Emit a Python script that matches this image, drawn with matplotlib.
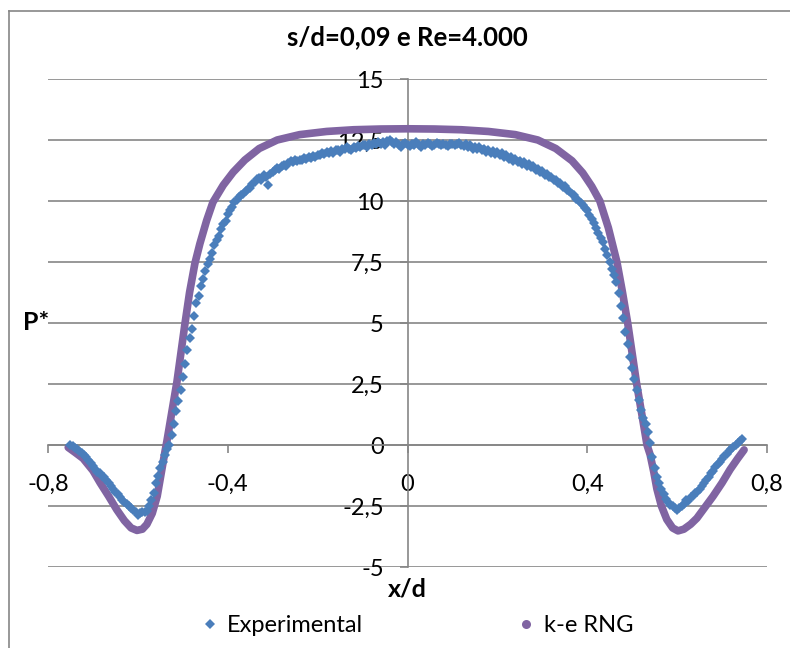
import numpy as np
import matplotlib
matplotlib.use("Agg")
import matplotlib.pyplot as plt
from matplotlib.lines import Line2D

plt.rcParams['font.family'] = ['Lato', 'DejaVu Sans']

# experimental P* profile, sampled every 0.005 in x/d starting at -0.75
exp_x0 = -0.75
exp_dx = 0.005
exp_y = [
    0.02, -0.06, -0.12, -0.18, -0.26, -0.33, -0.40, -0.50, -0.62, -0.72,
    -0.85, -0.98, -1.10, -1.15, -1.25, -1.32, -1.42, -1.55, -1.68, -1.80,
    -1.93, -2.02, -2.12, -2.25, -2.35, -2.42, -2.50, -2.58, -2.66, -2.76,
    -2.86, -2.80, -2.74, -2.76, -2.72, -2.50, -2.25, -1.95, -1.55, -1.25,
    -0.95, -0.68, -0.42, -0.18, 0.02, 0.40, 0.88, 1.38, 1.80, 2.25,
    2.80, 3.30, 3.90, 4.40, 4.75, 5.30, 5.80, 6.12, 6.50, 6.80,
    7.15, 7.40, 7.62, 7.85, 8.20, 8.40, 8.55, 8.85, 9.05, 9.20,
    9.45, 9.62, 9.75, 9.95, 10.05, 10.15, 10.25, 10.30, 10.40, 10.48,
    10.55, 10.70, 10.78, 10.90, 10.95, 10.85, 11.05, 11.00, 10.65, 11.10,
    11.20, 11.28, 11.35, 11.30, 11.42, 11.48, 11.45, 11.55, 11.62, 11.58,
    11.66, 11.62, 11.70, 11.68, 11.75, 11.72, 11.80, 11.78, 11.85, 11.82,
    11.90, 11.88, 11.95, 11.92, 12.02, 11.98, 12.05, 11.95, 12.08, 12.10,
    12.02, 12.15, 12.12, 12.20, 12.15, 12.10, 12.22, 12.18, 12.25, 12.20,
    12.30, 12.28, 12.22, 12.32, 12.30, 12.38, 12.33, 12.40, 12.35, 12.42,
    12.30, 12.45, 12.50, 12.40, 12.35, 12.42, 12.28, 12.20, 12.32, 12.38,
    12.30, 12.25, 12.35, 12.28, 12.40, 12.30, 12.22, 12.35, 12.28, 12.38,
    12.32, 12.25, 12.30, 12.38, 12.32, 12.28, 12.35, 12.30, 12.26, 12.33,
    12.35, 12.28, 12.32, 12.38, 12.30, 12.25, 12.32, 12.20, 12.28, 12.15,
    12.22, 12.12, 12.20, 12.08, 12.15, 12.02, 12.10, 11.98, 12.05, 11.92,
    12.00, 11.88, 11.95, 11.80, 11.88, 11.72, 11.80, 11.65, 11.72, 11.58,
    11.65, 11.50, 11.58, 11.45, 11.50, 11.38, 11.42, 11.28, 11.32, 11.18,
    11.22, 11.08, 11.12, 10.98, 11.00, 10.85, 10.88, 10.72, 10.75, 10.58,
    10.60, 10.45, 10.42, 10.30, 10.25, 10.08, 10.05, 9.90, 9.85, 9.70,
    9.62, 9.42, 9.28, 9.10, 8.88, 8.70, 8.50, 8.30, 8.05, 7.80,
    7.52, 7.20, 6.95, 6.70, 6.25, 5.70, 5.20, 4.65, 4.15, 3.60,
    3.15, 2.70, 2.25, 1.85, 1.45, 1.10, 0.85, 0.55, 0.10, -0.50,
    -0.95, -1.30, -1.55, -1.80, -2.00, -2.20, -2.35, -2.45, -2.52, -2.58,
    -2.65, -2.60, -2.48, -2.40, -2.25, -2.30, -2.15, -2.10, -1.98, -1.92,
    -1.80, -1.70, -1.55, -1.45, -1.30, -1.15, -1.05, -0.92, -0.78, -0.68,
    -0.58, -0.45, -0.35, -0.25, -0.18, -0.08, -0.02, 0.08, 0.15, 0.25,
]
exp_x = exp_x0 + exp_dx * np.arange(len(exp_y))

# k-e RNG simulation
cfd_x = [-0.755, -0.74, -0.722, -0.70, -0.684, -0.665, -0.647, -0.63, -0.615, -0.602,
         -0.59, -0.58, -0.568, -0.557, -0.548, -0.540, -0.535, -0.524, -0.513, -0.504,
         -0.495, -0.485, -0.473, -0.462, -0.447, -0.433, -0.41, -0.388, -0.362, -0.33,
         -0.29, -0.24, -0.18, -0.12, -0.06, 0.0, 0.06, 0.12, 0.18, 0.24,
         0.29, 0.33, 0.366, 0.39, 0.41, 0.428, 0.447, 0.466, 0.478, 0.49,
         0.50, 0.51, 0.522, 0.533, 0.54, 0.548, 0.555, 0.565, 0.577, 0.59,
         0.602, 0.615, 0.63, 0.644, 0.66, 0.68, 0.70, 0.718, 0.735, 0.749]
cfd_y = [-0.10, -0.30, -0.55, -1.05, -1.55, -2.10, -2.65, -3.10, -3.40, -3.50,
         -3.45, -3.25, -2.80, -2.10, -1.15, -0.30, 0.20, 1.40, 2.60, 3.80,
         5.00, 6.25, 7.45, 8.25, 9.20, 9.95, 10.65, 11.18, 11.68, 12.15,
         12.50, 12.72, 12.85, 12.92, 12.95, 12.96, 12.95, 12.92, 12.85, 12.72,
         12.50, 12.15, 11.65, 11.15, 10.60, 10.00, 8.90, 7.50, 6.30, 5.00,
         3.75, 2.50, 1.20, 0.00, -0.40, -1.10, -1.80, -2.50, -3.05, -3.40,
         -3.52, -3.45, -3.25, -3.00, -2.60, -2.10, -1.55, -1.00, -0.55, -0.20]

x_ticks = [-0.8, -0.4, 0, 0.4, 0.8]
x_tick_labels = ['-0,8', '-0,4', '0', '0,4', '0,8']
y_ticks = [-5, -2.5, 0, 2.5, 5, 7.5, 10, 12.5, 15]
y_tick_labels = ['-5', '-2,5', '0', '2,5', '5', '7,5', '10', '12,5', '15']

blue = '#4A7EBB'
purple = '#8064A2'
gray = '#868686'

fig = plt.figure(figsize=(7.9, 6.48), dpi=100)
ax = fig.add_axes([48 / 790, 81 / 648, 719 / 790, 488 / 648])

# chart frame (left and top edges)
fig.add_artist(Line2D([9 / 790, 9 / 790], [0, 1 - 11 / 648], color=gray, lw=1.2))
fig.add_artist(Line2D([9 / 790, 1], [1 - 11 / 648, 1 - 11 / 648], color=gray, lw=1.2))

ax.plot(cfd_x, cfd_y, color=purple, lw=5.5, solid_capstyle='round',
        solid_joinstyle='round', zorder=3)
ax.plot(exp_x, exp_y, linestyle='none', marker='D', ms=4.8, color=blue,
        markeredgewidth=0, zorder=4)

ax.set_xlim(-0.8, 0.8)
ax.set_ylim(-5, 15)
ax.set_xticks(x_ticks)
ax.set_xticklabels(x_tick_labels)
ax.set_yticks(y_ticks)
ax.set_yticklabels(y_tick_labels)

ax.spines['left'].set_position(('data', 0))
ax.spines['bottom'].set_position(('data', 0))
ax.spines['top'].set_visible(False)
ax.spines['right'].set_visible(False)
for side in ('left', 'bottom'):
    ax.spines[side].set_color(gray)
    ax.spines[side].set_linewidth(1.2)
    ax.spines[side].set_zorder(1)

ax.set_axisbelow(True)
ax.yaxis.grid(True, color=gray, lw=1.2)
ax.tick_params(axis='both', direction='out', length=6, width=1.2, color=gray,
               labelsize=17, labelcolor='black')
ax.tick_params(axis='x', pad=15)
ax.tick_params(axis='y', pad=11)

fig.text(407 / 790, 1 - 37 / 648, 's/d=0,09 e Re=4.000', ha='center', va='center',
         fontsize=18.5, fontweight='bold')
fig.text(36 / 790, 1 - 322 / 648, 'P*', ha='center', va='center',
         fontsize=18, fontweight='bold')
fig.text(407 / 790, 1 - 589 / 648, 'x/d', ha='center', va='center',
         fontsize=18, fontweight='bold')

handles = [
    Line2D([], [], linestyle='none', marker='D', ms=5.5, color=blue, markeredgewidth=0),
    Line2D([], [], linestyle='none', marker='o', ms=6.5, color=purple, markeredgewidth=0),
]
fig.legend(handles, ['Experimental', 'k-e RNG'], loc='center',
           bbox_to_anchor=(418 / 790, 1 - 626 / 648), ncol=2, frameon=False,
           fontsize=17, handlelength=0.6, handletextpad=0.45, columnspacing=6.6,
           borderpad=0)

fig.savefig('out.png', dpi=100)
